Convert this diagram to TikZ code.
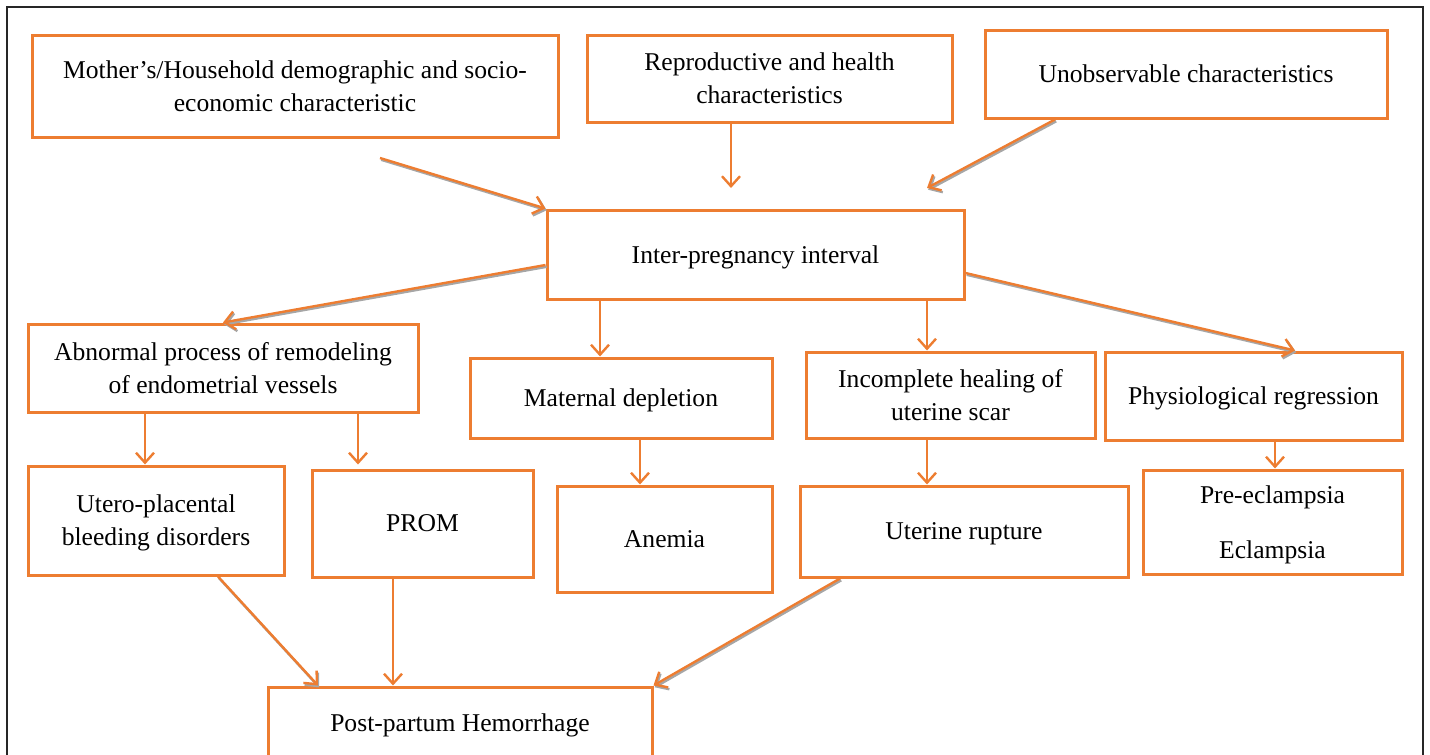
\documentclass[tikz,border=0pt]{standalone}
\usepackage{fontspec}
\setmainfont{Liberation Serif}
\usetikzlibrary{arrows.meta}
\definecolor{boxorange}{RGB}{237,125,49}
\tikzset{
  box/.style={draw=boxorange,line width=1.5pt,align=center,inner sep=2pt,
    text depth=0pt,font=\fontsize{12.8}{16.5}\selectfont},
  arr/.style={draw=boxorange,line width=1.2pt,->},
  sarr/.style={arr,preaction={draw=gray!70,line width=1.2pt,->,
    transform canvas={shift={(0.6pt,-0.9pt)}}}}
}

\begin{document}
\begin{tikzpicture}[x=0.5pt,y=-0.5pt,>={Straight Barb[length=5pt,width=9pt]}]
\useasboundingbox (0,0) rectangle (1430,755);
\draw[line width=1pt,black!85] (7,765) -- (7,7) -- (1423,7) -- (1423,765);

\node[box,minimum width=263pt,minimum height=51pt] (mother) at (295,86)
  {Mother's/Household demographic and socio-\\economic characteristic};
\node[box,minimum width=182.5pt,minimum height=43.5pt] (repro) at (769.5,78.5)
  {Reproductive and health\\characteristics};
\node[box,minimum width=201pt,minimum height=44pt] (unobs) at (1186,74)
  {Unobservable characteristics};
\node[box,minimum width=208.5pt,minimum height=44.5pt] (inter) at (755.5,254.5)
  {Inter-pregnancy interval};
\node[box,minimum width=195pt,minimum height=44pt] (abnormal) at (223,368)
  {Abnormal process of remodeling\\of endometrial vessels};
\node[box,minimum width=151pt,minimum height=40pt] (maternal) at (621,398)
  {Maternal depletion};
\node[box,minimum width=144.5pt,minimum height=43pt] (incomplete) at (950.5,395)
  {Incomplete healing of\\uterine scar};
\node[box,minimum width=148.5pt,minimum height=44pt] (physio) at (1253.5,396)
  {Physiological regression};
\node[box,minimum width=128pt,minimum height=54.5pt] (utero) at (156,520.5)
  {Utero-placental\\bleeding disorders};
\node[box,minimum width=110.5pt,minimum height=53.5pt] (prom) at (422.5,523.5)
  {PROM};
\node[box,minimum width=107.5pt,minimum height=53pt] (anemia) at (664.5,539)
  {Anemia};
\node[box,minimum width=164pt,minimum height=45.5pt] (rupture) at (964,531.5)
  {Uterine rupture};
\node[box,minimum width=129.5pt,minimum height=52pt] (preecl) at (1272.5,522)
  {Pre-eclampsia\\[11pt]Eclampsia};
\node[box,minimum width=192pt,minimum height=36pt] (pph) at (460,723)
  {Post-partum Hemorrhage};

\coordinate (m0) at (380,158);
\coordinate (r1) at (731,188);
\coordinate (u1) at (927,188);

\draw[sarr] (m0) -- (inter.north west);
\draw[arr] (repro.south -| r1) -- (r1);
\draw[sarr] (unobs.south -| 1055,0) -- (u1);

\draw[sarr] (inter.west |- 0,265) -- (abnormal.north);
\draw[arr] (inter.south -| 600,0) -- (maternal.north -| 600,0);
\draw[arr] (inter.south -| 927,0) -- (incomplete.north -| 927,0);
\draw[sarr] (inter.east |- 0,273) -- (physio.north -| 1295,0);

\draw[arr] (abnormal.south -| 145,0) -- (utero.north -| 145,0);
\draw[arr] (abnormal.south -| 358,0) -- ([yshift=2pt]prom.north -| 358,0);
\draw[arr] (maternal.south -| 640,0) -- (anemia.north -| 640,0);
\draw[arr] (incomplete.south -| 927,0) -- (rupture.north -| 927,0);
\draw[arr] (physio.south -| 1275,0) -- (preecl.north -| 1275,0);

\draw[sarr] (utero.south -| 218,0) -- (pph.north -| 318,0);
\draw[arr] (prom.south -| 393,0) -- (pph.north -| 393,0);
\draw[sarr] (rupture.south -| 840,0) -- (pph.north east);
\end{tikzpicture}
\end{document}
